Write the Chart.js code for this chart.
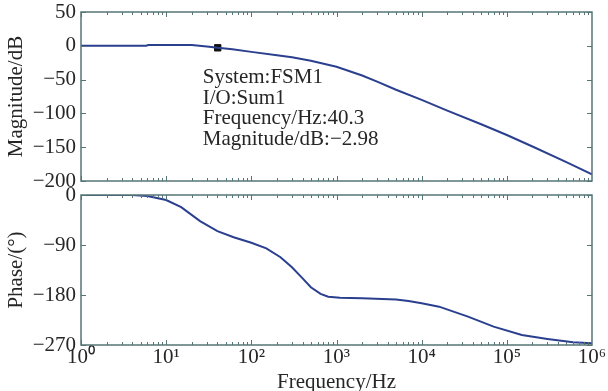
<!DOCTYPE html>
<html>
<head>
<meta charset="utf-8">
<script src="https://cdn.jsdelivr.net/npm/chart.js@4"></script>
<style>
  body { margin: 0; background: #fff; }
  #wrap { position: relative; width: 608px; height: 391px; }
  #top-box { position: absolute; left: 0; top: 0; }
  #bot-box { position: absolute; left: 0; top: 183px; }
</style>
</head>
<body>
<div id="wrap">
  <div id="top-box"><canvas id="mag-chart" width="608" height="192"></canvas></div>
  <div id="bot-box"><canvas id="phase-chart" width="608" height="208"></canvas></div>
</div>
<script>
// magnitude response
const magFreq = [1, 5.8, 6.2, 20, 30, 40.3, 60, 100, 200, 300, 500, 1000, 2000, 3000, 5000, 10000, 20000, 50000, 100000, 200000, 500000, 1000000];
const magDb = [0, 0, 1, 1, -1, -2.98, -5, -9, -14, -17, -22, -31, -44, -53, -65, -80, -96, -116, -132, -149, -172, -190];

// phase response
const phaseFreq = [1, 4, 6, 10, 15, 25, 40, 62, 100, 150, 220, 300, 400, 500, 650, 800, 1100, 2000, 5000, 7000, 10000, 16000, 35000, 70000, 150000, 300000, 600000, 1000000];
const phaseDeg = [0, 0, -2, -9, -22, -47, -65, -76, -86, -96, -112, -130, -150, -166, -178, -183, -185, -186, -188, -191, -195, -201, -219, -237, -252, -259, -265, -267];

// data tip
const tipFreq = 40.3;
const tipDb = -2.98;
const tipLines = ["System:FSM1", "I/O:Sum1", "Frequency/Hz:40.3", "Magnitude/dB:\u22122.98"];

const decades = [1, 10, 100, 1000, 10000, 100000, 1000000];
const decadeLabels = ["10\u2070", "10\u00b9", "10\u00b2", "10\u00b3", "10\u2074", "10\u2075", "10\u2076"];
const magTicks = [50, 0, -50, -100, -150, -200];
const phaseTicks = [0, -90, -180, -270];

const FONT = "'Liberation Serif', 'Times New Roman', serif";
const FONT_SIZE = 21;
const LINE_COLOR = "#2b3f8f";
const FRAME_COLOR = "#567576";
const TEXT_COLOR = "#262626";

function toPoints(xs, ys) {
  return xs.map((x, i) => ({ x: x, y: ys[i] }));
}

function minus(v) {
  return String(v).replace("-", "\u2212");
}

// frame + inward tick marks like the matlab bode plot
const framePlugin = {
  id: "frame",
  afterDatasetsDraw(chart) {
    const ctx = chart.ctx;
    const area = chart.chartArea;
    const xs = chart.scales.x;
    const ys = chart.scales.y;
    ctx.save();
    ctx.strokeStyle = FRAME_COLOR;
    ctx.lineWidth = 1;
    for (let d = 0; d < 6; d++) {
      for (let m = 1; m < 10; m++) {
        const v = m * Math.pow(10, d);
        const px = Math.round(xs.getPixelForValue(v)) + 0.5;
        const len = m === 1 ? 5 : 3;
        ctx.beginPath();
        ctx.moveTo(px, area.top);
        ctx.lineTo(px, area.top + len);
        ctx.moveTo(px, area.bottom);
        ctx.lineTo(px, area.bottom - len);
        ctx.stroke();
      }
    }
    ys.ticks.forEach((t) => {
      const py = Math.round(ys.getPixelForValue(t.value)) + 0.5;
      ctx.beginPath();
      ctx.moveTo(area.left, py);
      ctx.lineTo(area.left + 5, py);
      ctx.moveTo(area.right, py);
      ctx.lineTo(area.right - 5, py);
      ctx.stroke();
    });
    ctx.lineWidth = 1.5;
    ctx.strokeRect(area.left, area.top, area.right - area.left, area.bottom - area.top);
    ctx.restore();
  },
};

const tipPlugin = {
  id: "tip",
  afterDatasetsDraw(chart) {
    const ctx = chart.ctx;
    const px = chart.scales.x.getPixelForValue(tipFreq);
    const py = chart.scales.y.getPixelForValue(tipDb);
    ctx.save();
    ctx.fillStyle = TEXT_COLOR;
    ctx.font = FONT_SIZE + "px " + FONT;
    ctx.textBaseline = "middle";
    tipLines.forEach((line, i) => {
      ctx.fillText(line, px - 15, py + 30 + i * 20.5);
    });
    ctx.restore();
  },
};

function xScale(showLabels) {
  return {
    type: "logarithmic",
    min: 1,
    max: 1000000,
    display: showLabels,
    afterBuildTicks: (scale) => {
      scale.ticks = decades.map((v) => ({ value: v }));
    },
    afterFit: (scale) => {
      scale.height = showLabels ? 46 : 0;
      scale.paddingLeft = 0;
      scale.paddingRight = 0;
    },
    grid: { display: false, drawTicks: false },
    border: { display: false },
    ticks: {
      color: TEXT_COLOR,
      font: { family: FONT, size: FONT_SIZE },
      padding: 0,
      maxRotation: 0,
      autoSkip: false,
      callback: (value) => decadeLabels[decades.indexOf(value)],
    },
    title: {
      display: showLabels,
      text: "Frequency/Hz",
      color: TEXT_COLOR,
      font: { family: FONT, size: FONT_SIZE, lineHeight: 0.85 },
      padding: { top: 0, bottom: 0 },
    },
  };
}

function yScale(min, max, tickValues, titleText) {
  return {
    min: min,
    max: max,
    afterBuildTicks: (scale) => {
      scale.ticks = tickValues.map((v) => ({ value: v }));
    },
    afterFit: (scale) => {
      scale.width = 81;
      scale.paddingTop = 0;
      scale.paddingBottom = 0;
    },
    grid: { display: false, drawTicks: false },
    border: { display: false },
    ticks: {
      color: TEXT_COLOR,
      font: { family: FONT, size: FONT_SIZE },
      padding: 5,
      autoSkip: false,
      callback: (value) => minus(value),
    },
    title: {
      display: true,
      text: titleText,
      color: TEXT_COLOR,
      font: { family: FONT, size: FONT_SIZE },
      padding: { top: 4, bottom: 0 },
    },
  };
}

const magChart = new Chart(document.getElementById("mag-chart").getContext("2d"), {
  type: "line",
  data: {
    datasets: [
      {
        data: toPoints(magFreq, magDb),
        borderColor: LINE_COLOR,
        borderWidth: 2,
        pointRadius: 0,
        tension: 0,
      },
      {
        data: [{ x: tipFreq, y: tipDb }],
        showLine: false,
        pointStyle: "rect",
        pointRadius: 4.5,
        backgroundColor: "#111",
        borderColor: "#111",
      },
    ],
  },
  options: {
    responsive: false,
    animation: false,
    layout: { padding: { left: 0, right: 16, top: 12, bottom: 11 } },
    plugins: { legend: { display: false }, tooltip: { enabled: false } },
    scales: {
      x: xScale(false),
      y: yScale(-200, 50, magTicks, "Magnitude/dB"),
    },
  },
  plugins: [framePlugin, tipPlugin],
});

const phaseChart = new Chart(document.getElementById("phase-chart").getContext("2d"), {
  type: "line",
  data: {
    datasets: [
      {
        data: toPoints(phaseFreq, phaseDeg),
        borderColor: LINE_COLOR,
        borderWidth: 2,
        pointRadius: 0,
        tension: 0,
      },
    ],
  },
  options: {
    responsive: false,
    animation: false,
    layout: { padding: { left: 0, right: 16, top: 12, bottom: 0 } },
    plugins: { legend: { display: false }, tooltip: { enabled: false } },
    scales: {
      x: xScale(true),
      y: yScale(-270, 0, phaseTicks, "Phase/(\u00b0)"),
    },
  },
  plugins: [framePlugin],
});
</script>
</body>
</html>
